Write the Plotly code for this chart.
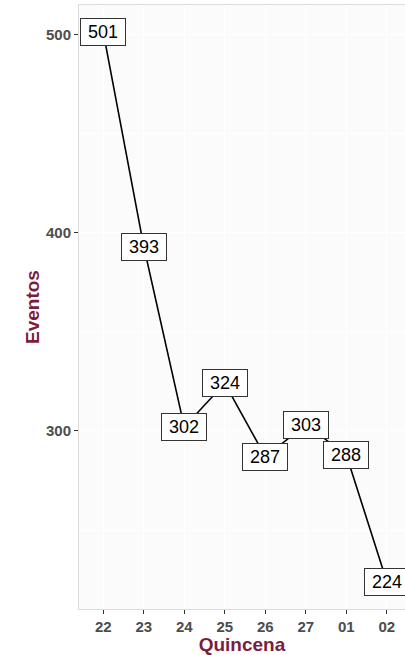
import plotly.graph_objects as go

quincenas = ["22", "23", "24", "25", "26", "27", "01", "02"]
eventos = [501, 393, 302, 324, 287, 303, 288, 224]

maroon = "#7b1d3f"
tick_col = "#4d4d4d"

fig = go.Figure()
fig.add_trace(go.Scatter(x=quincenas, y=eventos, mode="lines",
                         line=dict(color="black", width=1.6),
                         hoverinfo="skip", showlegend=False))

# category axis: annotations are placed by category index
for i, v in enumerate(eventos):
    fig.add_annotation(x=i, y=v, text=str(v), showarrow=False,
                       font=dict(family="Liberation Sans, Arial", size=18, color="black"),
                       bgcolor="white", bordercolor="#333333", borderwidth=1,
                       borderpad=2, width=40, height=22)

fig.update_layout(
    width=405, height=655,
    margin=dict(l=79, r=0, t=5, b=46),
    paper_bgcolor="white", plot_bgcolor="#fbfbfb",
    font=dict(family="Liberation Sans, Arial"),
    xaxis=dict(type="category", range=[-0.6, 7.45], automargin=False,
               showgrid=True, gridcolor="white", gridwidth=1.2,
               ticks="outside", ticklen=4, tickcolor="#333333",
               tickfont=dict(size=15, color=tick_col, weight="bold"),
               showline=True, linecolor="#dcdcdc", mirror=True,
               title=dict(text="<b>Quincena</b>", font=dict(size=19, color=maroon), standoff=2)),
    yaxis=dict(range=[210.15, 514.85], tickvals=[300, 400, 500], automargin=False,
               showgrid=True, gridcolor="white", gridwidth=1.2,
               minor=dict(tickvals=[250, 350, 450], showgrid=True, gridcolor="white", gridwidth=0.6),
               ticks="outside", ticklen=4, tickcolor="#333333",
               tickfont=dict(size=15, color=tick_col, weight="bold"),
               showline=True, linecolor="#dcdcdc", mirror=True, zeroline=False,
               title=dict(text="<b>Eventos</b>", font=dict(size=19, color=maroon), standoff=1)),
)

# drop the default page margin so the figure sits at the window's corner
fig.write_html("out.html", config={"displayModeBar": False},
               post_script="document.body.style.margin='0';document.body.style.overflow='hidden';")
